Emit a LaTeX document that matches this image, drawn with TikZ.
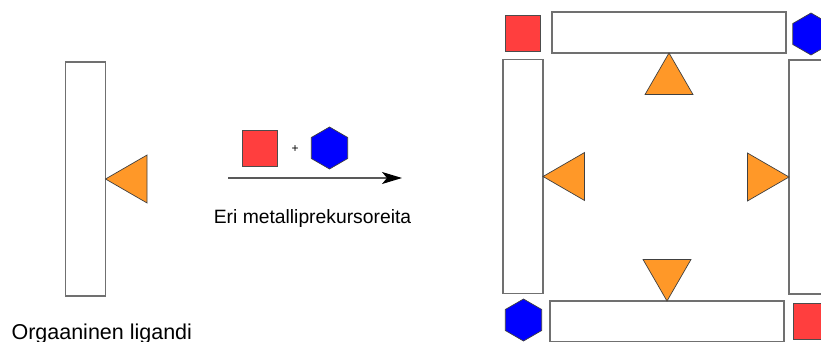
\documentclass[tikz,border=0pt]{standalone}
\usepackage{fontspec}
\setmainfont{Liberation Sans}
\usetikzlibrary{shapes.geometric,arrows.meta,positioning}
\definecolor{met}{RGB}{255, 62, 62}
\definecolor{lnk}{RGB}{0, 0, 255}
\definecolor{lig}{RGB}{255, 152, 40}
\definecolor{edge}{RGB}{112, 112, 112}

\begin{document}
\begin{tikzpicture}[x=1pt, y=-1pt,
    bar/.style={draw=edge, line width=1.2pt, fill=white, inner sep=0pt, outer sep=0pt},
    vbar/.style={bar, minimum width=40pt, minimum height=234pt},
    hbar/.style={bar, minimum width=234pt, minimum height=41pt},
    tri/.style={regular polygon, regular polygon sides=3, minimum size=55.4pt, inner sep=0pt, outer sep=0pt,
      draw=black!75, line width=0.7pt, fill=lig, anchor=corner 1},
    sqr/.style={draw=black!70, line width=0.7pt, fill=met, minimum size=35.5pt, inner sep=0pt},
    hex/.style={regular polygon, regular polygon sides=6, shape border rotate=30, minimum size=42pt,
      inner sep=0pt, draw=black!75, line width=0.7pt, fill=lnk}]
  \useasboundingbox (0,0) rectangle (821,342);
  \clip (0,0) rectangle (821,342);

  % ligand on its own
  \node[vbar] (lbar) at (85.5,179) {};
  \node[tri, shape border rotate=90] (ltri) at (lbar.east) {};
  \node[anchor=base west, font=\fontsize{21.5}{26}\selectfont] (lname) at (8,339) {Orgaaninen ligandi};

  % metal precursors and reaction arrow
  \node[sqr] (msq) at (260,148.5) {};
  \node[font=\fontsize{12}{14}\selectfont] (plus) at (295,149) {+};
  \node[hex] (mhex) at (329.5,148) {};
  \coordinate (arrS) at (228,178);
  \coordinate (arrE) at (402,178);
  \draw[draw=black!65, line width=1.3pt, -{Stealth[length=20pt, width=12pt, inset=5pt, black]}] (arrS) -- (arrE);
  \node[anchor=base, font=\fontsize{19.3}{23}\selectfont] (prec) at (312.5,223) {Eri metalliprekursoreita};

  % square complex
  \node[hbar] (top) at (669,32.5) {};
  \node[hbar] (bot) at (667,321.5) {};
  \node[vbar] (left) at (523,176.5) {};
  \node[vbar] (right) at (809,177) {};
  \node[sqr] (sqTL) at (523,33.5) {};
  \node[hex] (hxTR) at (811,34) {};
  \node[hex] (hxBL) at (523.5,320) {};
  \node[sqr] (sqBR) at (811,321.5) {};
  \node[tri] (tTop) at (top.south) {};
  \node[tri, shape border rotate=180] (tBot) at (bot.north) {};
  \node[tri, shape border rotate=90] (tLeft) at (left.east) {};
  \node[tri, shape border rotate=-90] (tRight) at (right.west) {};
\end{tikzpicture}
\end{document}
